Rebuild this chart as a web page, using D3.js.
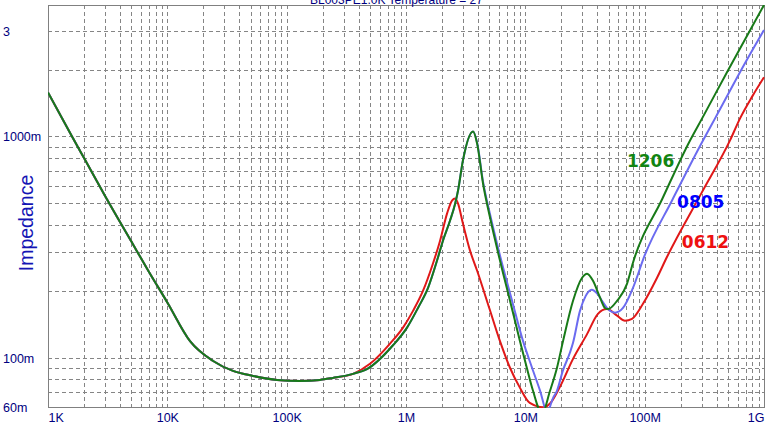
<!DOCTYPE html>
<html><head><meta charset="utf-8">
<script src="https://cdn.jsdelivr.net/npm/d3@7"></script>
<style>body{margin:0;background:#fff}svg{display:block}</style>
</head><body><svg id="c" width="773" height="425"></svg>
<script>
// ---- data ----
const titleText = "BL003PE1.0K Temperature = 27";
const yAxisTitle = "Impedance";
const xTicks = [1e3, 1e4, 1e5, 1e6, 1e7, 1e8, 1e9];
const xTickLabels = ["1K", "10K", "100K", "1M", "10M", "100M", "1G"];
const yTicks = [3, 1, 0.1, 0.06];
const yTickLabels = ["3", "1000m", "100m", "60m"];
const yDomain = [0.06, 3.92];
const xDomain = [1e3, 1e9];

// shared low-frequency part (all three curves overlap)
const lowFreq = [1e3, 1.59e3, 2e3, 3e3, 5e3, 7e3, 1e4, 1.55e4, 2.42e4, 3.55e4, 5.22e4, 8.3e4, 1.29e5, 1.9e5, 2.44e5, 3.6e5];
const lowZ    = [1.58, 1.0, 0.80, 0.54, 0.335, 0.245, 0.178, 0.119, 0.0968, 0.0873, 0.0829, 0.0795, 0.0787, 0.0795, 0.0812, 0.0847];

const redFreq = [4.99e5, 7.35e5, 9.44e5, 1.145e6, 1.39e6, 1.68e6, 1.93e6, 2.21e6, 2.43e6, 2.58e6, 2.73e6, 3.0e6, 3.44e6, 3.94e6, 5e6, 6.13e6, 7.45e6, 9.02e6, 1.09e7, 1.41e7, 1.61e7, 1.95e7, 2.51e7, 3.29e7, 4.06e7, 4.83e7, 5.87e7, 6.84e7, 7.83e7, 9.68e7, 1.27e8, 1.54e8, 3e8, 5.19e8, 6.3e8, 8e8, 1e9];
const redZ    = [0.094, 0.116, 0.137, 0.163, 0.201, 0.266, 0.338, 0.449, 0.513, 0.524, 0.497, 0.404, 0.305, 0.248, 0.167, 0.119, 0.090, 0.0732, 0.0626, 0.0598, 0.0622, 0.074, 0.099, 0.128, 0.158, 0.166, 0.155, 0.147, 0.150, 0.1755, 0.230, 0.286, 0.556, 0.959, 1.206, 1.52, 1.85];

const blueFreq = [4.71e5, 7.78e5, 1.02e6, 1.26e6, 1.53e6, 1.82e6, 2.04e6, 2.34e6, 2.58e6, 2.73e6, 3.0e6, 3.65e6, 3.94e6, 4.42e6, 5.06e6, 6.13e6, 7.7e6, 9.57e6, 1.14e7, 1.33e7, 1.52e7, 1.71e7, 1.84e7, 2.07e7, 2.37e7, 2.51e7, 2.87e7, 3.2e7, 3.6e7, 4.0e7, 4.39e7, 4.93e7, 5.65e7, 6.58e7, 7.98e7, 1.0e8, 1.7e8, 3.08e8, 3.89e8, 7e8, 1e9];
const blueZ    = [0.089, 0.114, 0.137, 0.168, 0.207, 0.275, 0.338, 0.417, 0.497, 0.570, 0.779, 1.053, 0.94, 0.625, 0.445, 0.290, 0.183, 0.119, 0.090, 0.071, 0.057, 0.066, 0.071, 0.088, 0.106, 0.117, 0.163, 0.19, 0.203, 0.195, 0.181, 0.166, 0.160, 0.168, 0.207, 0.290, 0.515, 0.959, 1.206, 2.16, 3.02];

const greenFreq = [4.71e5, 7.78e5, 1.02e6, 1.26e6, 1.53e6, 1.82e6, 2.04e6, 2.34e6, 2.58e6, 2.73e6, 3.0e6, 3.65e6, 3.94e6, 4.42e6, 5.06e6, 6.13e6, 7.5e6, 9.02e6, 1.03e7, 1.16e7, 1.38e7, 1.61e7, 1.84e7, 2.07e7, 2.51e7, 2.99e7, 3.29e7, 3.69e7, 4.23e7, 4.65e7, 4.93e7, 5.87e7, 7.11e7, 7.98e7, 1.4e8, 2.4e8, 3.03e8, 5e8, 1e9];
const greenZ    = [0.089, 0.114, 0.137, 0.168, 0.207, 0.275, 0.338, 0.417, 0.497, 0.570, 0.779, 1.053, 0.93, 0.613, 0.430, 0.275, 0.178, 0.119, 0.090, 0.071, 0.056, 0.071, 0.090, 0.119, 0.181, 0.230, 0.240, 0.223, 0.187, 0.168, 0.166, 0.181, 0.216, 0.269, 0.52, 0.959, 1.206, 1.99, 3.92];

const seriesNames  = ["0612", "0805", "1206"];
const seriesFreqs  = [redFreq, blueFreq, greenFreq];
const seriesZs     = [redZ, blueZ, greenZ];
const lineColors   = ["#e01818", "#6b6bf0", "#187a18"];
const labelColors  = ["#ee1111", "#0000ff", "#128512"];
const labelAt      = [[2.05e8, 0.315], [1.87e8, 0.477], [7.1e7, 0.724]]; // [freq, Z] start/baseline of each label

// ---- layout ----
const L = 48, R = 764, T = 5, B = 407;
const svg = d3.select("#c");
const x = d3.scaleLog().domain(xDomain).range([L, R]);
const y = d3.scaleLog().domain(yDomain).range([B, T]);

// grid values
const gridX = [];
for (let d = 3; d < 9; d++) for (let k = 1; k <= 9; k++) { const v = k * Math.pow(10, d); if (v > xDomain[0]) gridX.push(v); }
const gridY = [];
for (let d = -2; d <= 0; d++) for (let k = 1; k <= 9; k++) { const v = k * Math.pow(10, d); if (v > yDomain[0] + 1e-9 && v < yDomain[1]) gridY.push(v); }

const grid = svg.append("g").attr("stroke", "#858585").attr("stroke-width", 1).attr("stroke-dasharray", "4,3").attr("shape-rendering", "crispEdges");
grid.selectAll("line.gx").data(gridX).join("line").attr("class", "gx")
  .attr("x1", d => Math.round(x(d)) + 0.5).attr("x2", d => Math.round(x(d)) + 0.5).attr("y1", T).attr("y2", B);
grid.selectAll("line.gy").data(gridY).join("line").attr("class", "gy")
  .attr("y1", d => Math.round(y(d)) + 0.5).attr("y2", d => Math.round(y(d)) + 0.5).attr("x1", L).attr("x2", R);

// frame
svg.append("rect").attr("x", L + 0.5).attr("y", T + 0.5).attr("width", R - L).attr("height", B - T)
  .attr("fill", "none").attr("stroke", "#808080").attr("stroke-width", 1).attr("shape-rendering", "crispEdges");

// curves
svg.append("clipPath").attr("id", "clip").append("rect").attr("x", L).attr("y", T).attr("width", R - L + 1).attr("height", B - T + 1);
const line = d3.line().x(d => x(d[0])).y(d => y(d[1])).curve(d3.curveMonotoneX);
const curves = svg.append("g").attr("clip-path", "url(#clip)");
seriesNames.forEach((name, i) => {
  const pts = lowFreq.map((f, j) => [f, lowZ[j]]).concat(seriesFreqs[i].map((f, j) => [f, seriesZs[i][j]]));
  curves.append("path").datum(pts).attr("d", line).attr("fill", "none")
    .attr("stroke", lineColors[i]).attr("stroke-width", 2).attr("stroke-linejoin", "round");
});

// series labels
seriesNames.forEach((name, i) => {
  svg.append("text").attr("x", x(labelAt[i][0])).attr("y", y(labelAt[i][1]))
    .attr("font-family", "DejaVu Sans, Verdana, sans-serif").attr("font-weight", "bold").attr("font-size", 17)
    .attr("fill", labelColors[i]).text(name);
});

// x axis labels via d3 axis
const xAxis = d3.axisBottom(x).tickValues(xTicks).tickFormat((d, i) => xTickLabels[i]).tickSize(0).tickPadding(0);
const gx = svg.append("g").attr("transform", `translate(0,${B})`).call(xAxis);
gx.select(".domain").remove();
gx.selectAll("text").attr("font-family", "Liberation Sans, Arial, sans-serif").attr("font-size", 12.5)
  .attr("fill", "#000080").attr("dy", null).attr("y", 15)
  .attr("text-anchor", (d, i) => i === 0 ? "start" : (i === xTicks.length - 1 ? "end" : "middle"));

// y axis labels via d3 axis
const yAxis = d3.axisLeft(y).tickValues(yTicks).tickFormat((d, i) => yTickLabels[i]).tickSize(0).tickPadding(0);
const gy = svg.append("g").attr("transform", `translate(3,0)`).call(yAxis);
gy.select(".domain").remove();
gy.selectAll("text").attr("font-family", "Liberation Sans, Arial, sans-serif").attr("font-size", 12.5)
  .attr("fill", "#000080").attr("x", 0).attr("text-anchor", "start").attr("dy", "0.35em");

// y axis title
svg.append("text").attr("transform", `translate(33,${223}) rotate(-90)`).attr("text-anchor", "middle")
  .attr("font-family", "Liberation Sans, Arial, sans-serif").attr("font-size", 19.5).attr("fill", "#1414b4").text(yAxisTitle);

// chart title (cut off at top, as in the reference)
svg.append("text").attr("x", 310).attr("y", 4).attr("font-family", "Liberation Sans, Arial, sans-serif")
  .attr("font-size", 12).attr("fill", "#000080").text(titleText);
</script>
</body></html>
